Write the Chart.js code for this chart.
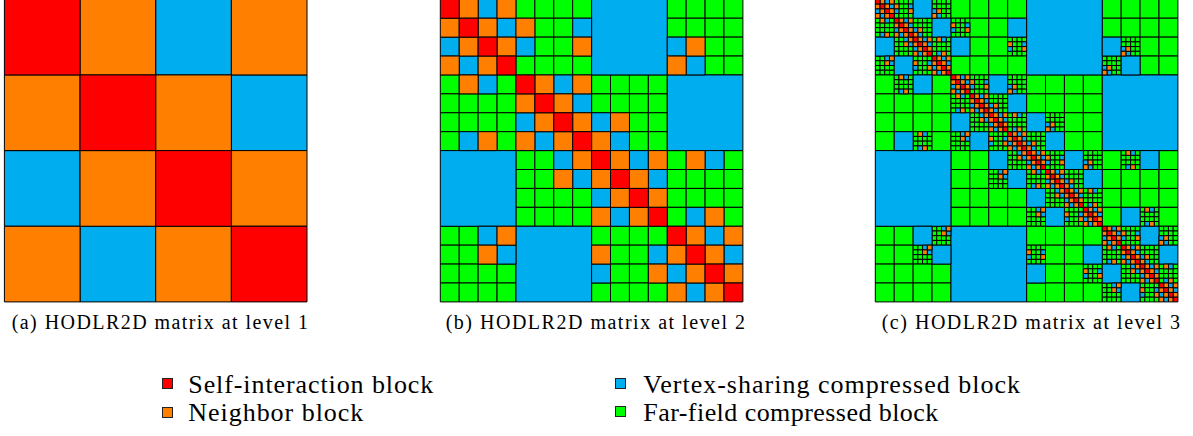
<!DOCTYPE html>
<html>
<head>
<meta charset="utf-8">
<script src="https://cdn.jsdelivr.net/npm/chart.js@4.4.1/dist/chart.umd.min.js"></script>
<style>
  html, body { margin: 0; padding: 0; background: #fff; }
  body { position: relative; width: 1193px; height: 436px; overflow: hidden; }
  canvas { position: absolute; top: -2px; }
  .txt { position: absolute; white-space: nowrap; color: #000; }
  .swatch { position: absolute; box-sizing: border-box; width: 11px; height: 11px; border: 1px solid #222; }
</style>
</head>
<body>
<canvas id="panelA" width="316" height="310" style="left:0px"></canvas>
<canvas id="panelB" width="316" height="310" style="left:436px"></canvas>
<canvas id="panelC" width="316" height="310" style="left:871px"></canvas>
<script>
const blockTypes = ['R', 'O', 'B', 'G'];
const blockColors = ['#ff0000', '#ff8000', '#00aeef', '#00ff00'];
const blockLabels = ['Self-interaction block', 'Neighbor block', 'Vertex-sharing compressed block', 'Far-field compressed block'];
const captionTexts = ['(a) HODLR2D matrix at level 1', '(b) HODLR2D matrix at level 2', '(c) HODLR2D matrix at level 3'];

// level 1: 4x4 blocks
const level1Rows = ['ROBO', 'OROB', 'BORO', 'OBOR'];

// level-1 vertex-sharing blocks that stay compressed in (b) and (c)
const level1VertexBlocks = [[0, 2], [1, 3], [2, 0], [3, 1]];

// level 2: 16x16, X = covered by a level-1 vertex-sharing block
const level2Rows = [
    'ROBOGGGGXXXXGGGG',
    'OROBOGGBXXXXGGGG',
    'BOROBGGOXXXXBOGG',
    'OBORGGGGXXXXOBGG',
    'GOBGROBOGGGGXXXX',
    'GGGGOROBGGGGXXXX',
    'GGGGBOROBOGGXXXX',
    'GBOGOBOROBGGXXXX',
    'XXXXGGBOROBOGOBG',
    'XXXXGGOBOROBGGGG',
    'XXXXGGGGBOROGGGG',
    'XXXXGGGGOBORGBOG',
    'GGBOXXXXGGGGROBO',
    'GGOBXXXXOGGBOROB',
    'GGGGXXXXBGGOBORO',
    'GGGGXXXXGGGGOBOR'
];

// level 3: level-2 layout, R = refined self block,
// r/l/u/d = refined neighbor block (neighbor to the right/left/up/down)
const level3Rows = [
    'RrBuGGGGXXXXGGGG',
    'lRuBrGGBXXXXGGGG',
    'BdRlBGGrXXXXBuGG',
    'dBrRGGGGXXXXuBGG',
    'GlBGRrBuGGGGXXXX',
    'GGGGlRuBGGGGXXXX',
    'GGGGBdRlBuGGXXXX',
    'GBlGdBrRuBGGXXXX',
    'XXXXGGBdRrBuGlBG',
    'XXXXGGdBlRuBGGGG',
    'XXXXGGGGBdRlGGGG',
    'XXXXGGGGdBrRGBlG',
    'GGBdXXXXGGGGRrBu',
    'GGdBXXXXrGGBlRuB',
    'GGGGXXXXBGGrBdRl',
    'GGGGXXXXGGGGdBrR'
];

// children patterns of a refined block
const selfPattern = ['ROBO', 'OROB', 'BORO', 'OBOR'];
const rightPattern = ['GGGG', 'OGGB', 'BGGO', 'GGGG'];
const leftPattern = ['GOBG', 'GGGG', 'GGGG', 'GBOG'];
const upPattern = ['GGGG', 'GGGG', 'BOGG', 'OBGG'];
const downPattern = ['GGBO', 'GGOB', 'GGGG', 'GGGG'];

const refinePatterns = { R: selfPattern, r: rightPattern, l: leftPattern, u: upPattern, d: downPattern };

const addCell = (cells, row, col, n, t) => {
    cells.push({ x: (col + 0.5) / n, y: (row + 0.5) / n, s: 1 / n, t });
};

const panelACells = [];
level1Rows.forEach((line, i) => [...line].forEach((t, j) => addCell(panelACells, i, j, 4, t)));

const panelBCells = [];
level1VertexBlocks.forEach(([i, j]) => addCell(panelBCells, i, j, 4, 'B'));
level2Rows.forEach((line, i) => [...line].forEach((t, j) => {
    if (t !== 'X') addCell(panelBCells, i, j, 16, t);
}));

const panelCCells = [];
level1VertexBlocks.forEach(([i, j]) => addCell(panelCCells, i, j, 4, 'B'));
level3Rows.forEach((line, i) => [...line].forEach((t, j) => {
    if (t === 'X') return;
    const pattern = refinePatterns[t];
    if (!pattern) {
        addCell(panelCCells, i, j, 16, t);
        return;
    }
    pattern.forEach((pl, a) => [...pl].forEach((st, b) => addCell(panelCCells, 4 * i + a, 4 * j + b, 64, st)));
}));

// rect point side = sqrt(2) * radius
const sideRadius = (ctx) => {
    if (!ctx.raw) return 0;
    const sx = ctx.chart.scales.x;
    return Math.abs(sx.getPixelForValue(ctx.raw.s) - sx.getPixelForValue(0)) / Math.SQRT2;
};

const makeChart = (id, cells, padLeft) => new Chart(document.getElementById(id), {
    type: 'scatter',
    data: {
        datasets: blockTypes.map((t, k) => ({
            label: blockLabels[k],
            data: cells.filter(c => c.t === t),
            backgroundColor: blockColors[k],
            borderColor: '#000',
            borderWidth: 1,
            pointStyle: 'rect',
            pointRadius: sideRadius,
            clip: false
        }))
    },
    options: {
        responsive: false,
        animation: false,
        events: [],
        layout: { padding: { left: padLeft, top: 1.3, right: 316 - padLeft - 302.6, bottom: 310 - 1.3 - 302.6 } },
        plugins: { legend: { display: false }, tooltip: { enabled: false } },
        scales: {
            x: { type: 'linear', min: 0, max: 1, display: false },
            y: { type: 'linear', min: 0, max: 1, reverse: true, display: false }
        }
    }
});

makeChart('panelA', panelACells, 4.4);
makeChart('panelB', panelBCells, 4.3);
makeChart('panelC', panelCCells, 4.3);

// text, stretched to the reference widths
const serifStack = '"Liberation Serif", Tinos, "Times New Roman", serif';
const measureCtx = document.createElement('canvas').getContext('2d');
const placeText = (text, left, right, baseline, size) => {
    const font = `${size}px ${serifStack}`;
    measureCtx.font = font;
    const m = measureCtx.measureText(text);
    const spacing = (right - left - m.width) / (text.length - 1);
    const div = document.createElement('div');
    div.className = 'txt';
    div.textContent = text;
    div.style.fontFamily = serifStack;
    div.style.fontSize = size + 'px';
    div.style.lineHeight = '0';
    div.style.letterSpacing = spacing + 'px';
    div.style.left = left + 'px';
    div.style.top = (baseline - (m.fontBoundingBoxAscent - m.fontBoundingBoxDescent) / 2) + 'px';
    document.body.appendChild(div);
};

const captionSpans = [[11.7, 308], [445.7, 745], [881.7, 1180]];
captionTexts.forEach((text, k) => placeText(text, captionSpans[k][0], captionSpans[k][1], 329.3, 20));

const legendSpots = [
    { sx: 161.5, sy: 378, tx: 188.3, right: 433.3, base: 393.8 },
    { sx: 161.5, sy: 406.5, tx: 188.3, right: 363.3, base: 421.8 },
    { sx: 614.8, sy: 377.5, tx: 643.3, right: 1020, base: 393.3 },
    { sx: 614.8, sy: 405.5, tx: 643.3, right: 938.3, base: 421.3 }
];
legendSpots.forEach((p, k) => {
    const sw = document.createElement('div');
    sw.className = 'swatch';
    sw.style.left = p.sx + 'px';
    sw.style.top = p.sy + 'px';
    sw.style.background = blockColors[k];
    document.body.appendChild(sw);
    placeText(blockLabels[k], p.tx, p.right, p.base, 26);
});
</script>
</body>
</html>
